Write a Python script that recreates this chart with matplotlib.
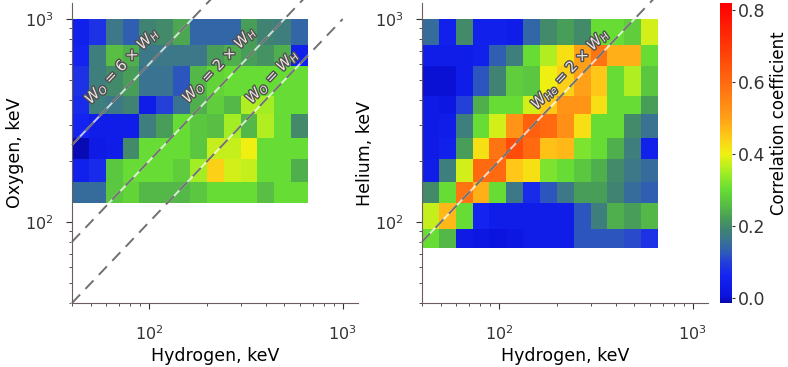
import matplotlib
matplotlib.use("Agg")
import matplotlib.pyplot as plt
import matplotlib.patheffects as pe
from matplotlib.colors import LinearSegmentedColormap, Normalize
import numpy as np

# energy channels (keV): hydrogen bin edges and ion bin edges (top -> bottom)
h_edges = [40, 49, 60, 73, 89, 109, 133, 163, 199, 243, 297, 363, 444, 543, 665]
ion_edges = [1000, 744, 587, 418, 340, 259, 204, 158, 124, 93, 74.5]

# correlation coefficients, rows from highest ion energy down
oxygen_corr = [
    [0.05, 0.08, 0.17, 0.13, 0.19, 0.20, 0.23, 0.14, 0.14, 0.14, 0.22, 0.19, 0.18, 0.14],
    [0.06, 0.18, 0.26, 0.24, 0.17, 0.17, 0.17, 0.17, 0.22, 0.24, 0.22, 0.21, 0.24, 0.05],
    [0.08, 0.18, 0.20, 0.22, 0.16, 0.16, 0.12, 0.25, 0.29, 0.30, 0.30, 0.30, 0.30, 0.30],
    [0.07, 0.18, 0.17, 0.19, 0.04, 0.10, 0.16, 0.24, 0.28, 0.25, 0.36, 0.35, 0.30, 0.30],
    [0.06, 0.04, 0.04, 0.04, 0.18, 0.22, 0.30, 0.27, 0.26, 0.35, 0.25, 0.36, 0.30, 0.20],
    [-0.01, 0.03, 0.04, 0.20, 0.30, 0.30, 0.30, 0.27, 0.37, 0.37, 0.40, 0.30, 0.30, 0.30],
    [0.05, 0.07, 0.27, 0.30, 0.30, 0.30, 0.28, 0.35, 0.44, 0.38, 0.37, 0.30, 0.30, 0.24],
    [0.15, 0.15, 0.27, 0.29, 0.25, 0.25, 0.25, 0.27, 0.30, 0.30, 0.30, 0.26, 0.30, 0.30],
]
helium_corr = [
    [0.15, 0.05, 0.20, 0.05, 0.05, 0.04, 0.14, 0.20, 0.22, 0.20, 0.30, 0.30, 0.28, 0.38],
    [0.04, 0.04, 0.04, 0.05, 0.13, 0.18, 0.30, 0.36, 0.42, 0.50, 0.58, 0.48, 0.48, 0.30],
    [0.00, 0.00, 0.04, 0.12, 0.19, 0.28, 0.27, 0.40, 0.44, 0.50, 0.45, 0.30, 0.36, 0.27],
    [0.03, 0.02, 0.10, 0.24, 0.30, 0.30, 0.38, 0.45, 0.52, 0.52, 0.42, 0.30, 0.30, 0.22],
    [0.03, 0.04, 0.18, 0.30, 0.38, 0.52, 0.62, 0.60, 0.53, 0.42, 0.30, 0.30, 0.20, 0.16],
    [0.03, 0.05, 0.22, 0.42, 0.58, 0.66, 0.60, 0.46, 0.47, 0.32, 0.30, 0.24, 0.18, 0.05],
    [0.04, 0.18, 0.38, 0.60, 0.60, 0.45, 0.42, 0.32, 0.30, 0.27, 0.24, 0.20, 0.17, 0.15],
    [0.20, 0.30, 0.58, 0.48, 0.30, 0.17, 0.07, 0.12, 0.17, 0.22, 0.22, 0.19, 0.15, 0.13],
    [0.37, 0.47, 0.30, 0.06, 0.04, 0.04, 0.04, 0.04, 0.04, 0.12, 0.18, 0.24, 0.22, 0.25],
    [0.30, 0.25, 0.03, 0.02, 0.01, 0.02, 0.04, 0.04, 0.04, 0.12, 0.12, 0.12, 0.11, 0.08],
]

# reference lines W_ion = ratio * W_H
oxygen_ratios = [6, 2, 1]
oxygen_labels = [r"$W_O$ = 6 $\times$ $W_H$", r"$W_O$ = 2 $\times$ $W_H$", r"$W_O$ = $W_H$"]
helium_ratios = [2]
helium_labels = [r"$W_{He}$ = 2 $\times$ $W_H$"]

vmin, vmax = -0.015, 0.82
nodes = [(-0.015, "#0808a8"), (0.0, "#0a12dc"), (0.06, "#1424f0"), (0.10, "#2440d8"),
         (0.13, "#3060b0"), (0.16, "#3a7490"), (0.19, "#408470"), (0.22, "#489c58"),
         (0.25, "#54b848"), (0.30, "#66dc34"), (0.35, "#a4ee24"), (0.40, "#f0f012"),
         (0.45, "#ffc818"), (0.50, "#ffa018"), (0.60, "#ff6a10"), (0.70, "#ff3808"),
         (0.82, "#ff0000")]
cmap = LinearSegmentedColormap.from_list(
    "corr", [((v - vmin) / (vmax - vmin), c) for v, c in nodes])
norm = Normalize(vmin=vmin, vmax=vmax)

axis_col = "#6e5c5c"

fig = plt.figure(figsize=(7.88, 3.67), dpi=100)
ax1 = fig.add_axes([72 / 788, 1 - 303 / 367, 286 / 788, 300 / 367])
ax2 = fig.add_axes([422 / 788, 1 - 303 / 367, 286 / 788, 300 / 367])
cax = fig.add_axes([720 / 788, 1 - 303 / 367, 12 / 788, 300 / 367])


def panel(ax, data, ratios, labels, label_pos, offsets, ylabel):
    ny = len(data)
    mesh = ax.pcolormesh(h_edges, ion_edges[:ny + 1], np.array(data),
                         cmap=cmap, norm=norm, shading="flat")
    ax.set_xscale("log")
    ax.set_yscale("log")
    ax.set_xlim(40, 1200)
    ax.set_ylim(40, 1200)
    fig.canvas.draw()
    p1 = ax.transData.transform((100, 100))
    p2 = ax.transData.transform((1000, 1000))
    ang = np.degrees(np.arctan2(p2[1] - p1[1], p2[0] - p1[0]))
    nx, nyv = -np.sin(np.radians(ang)), np.cos(np.radians(ang))
    xl = np.array([40, 1000])
    for r, lab, xp, off in zip(ratios, labels, label_pos, offsets):
        ax.plot(xl, r * xl, color="white", lw=1.4, alpha=0.75, clip_on=False)
        ax.plot(xl, r * xl, color="#707070", lw=1.4, dashes=(6, 4), clip_on=False)
        ax.annotate(lab, xy=(xp, r * xp), xytext=(nx * off, nyv * off),
                    textcoords="offset points", ha="center", va="center",
                    rotation=ang, rotation_mode="anchor", fontsize=10.5,
                    color="#f2e4e4",
                    path_effects=[pe.withStroke(linewidth=2, foreground="#505050")])
    for s in ["top", "right"]:
        ax.spines[s].set_visible(False)
    for s in ["left", "bottom"]:
        ax.spines[s].set_color(axis_col)
    ax.tick_params(which="both", direction="out", colors="#333333", labelsize=11.5)
    ax.tick_params(axis="x", which="major", length=4, pad=11)
    ax.tick_params(axis="y", which="major", length=4, pad=9)
    ax.tick_params(which="minor", length=2.5)
    ax.set_xlabel("Hydrogen, keV", fontsize=12.5, labelpad=3)
    ax.set_ylabel(ylabel, fontsize=12.5, labelpad=1)
    return mesh


mesh = panel(ax1, oxygen_corr, oxygen_ratios, oxygen_labels,
             [85, 264, 478], [13.5, 11.5, 8.5], "Oxygen, keV")
panel(ax2, helium_corr, helium_ratios, helium_labels, [259], [9], "Helium, keV")

cb = fig.colorbar(mesh, cax=cax)
cb.outline.set_visible(False)
cb.set_ticks([0.0, 0.2, 0.4, 0.6, 0.8])
cb.set_ticklabels(["0.0", "0.2", "0.4", "0.6", "0.8"])
cax.tick_params(labelsize=12.5, length=2.5, colors="#333333", pad=2)
fig.text(779 / 788, 1 - 123 / 367, "Correlation coefficient", rotation=90,
         ha="center", va="center", fontsize=12)

fig.savefig("out.png", dpi=100)
